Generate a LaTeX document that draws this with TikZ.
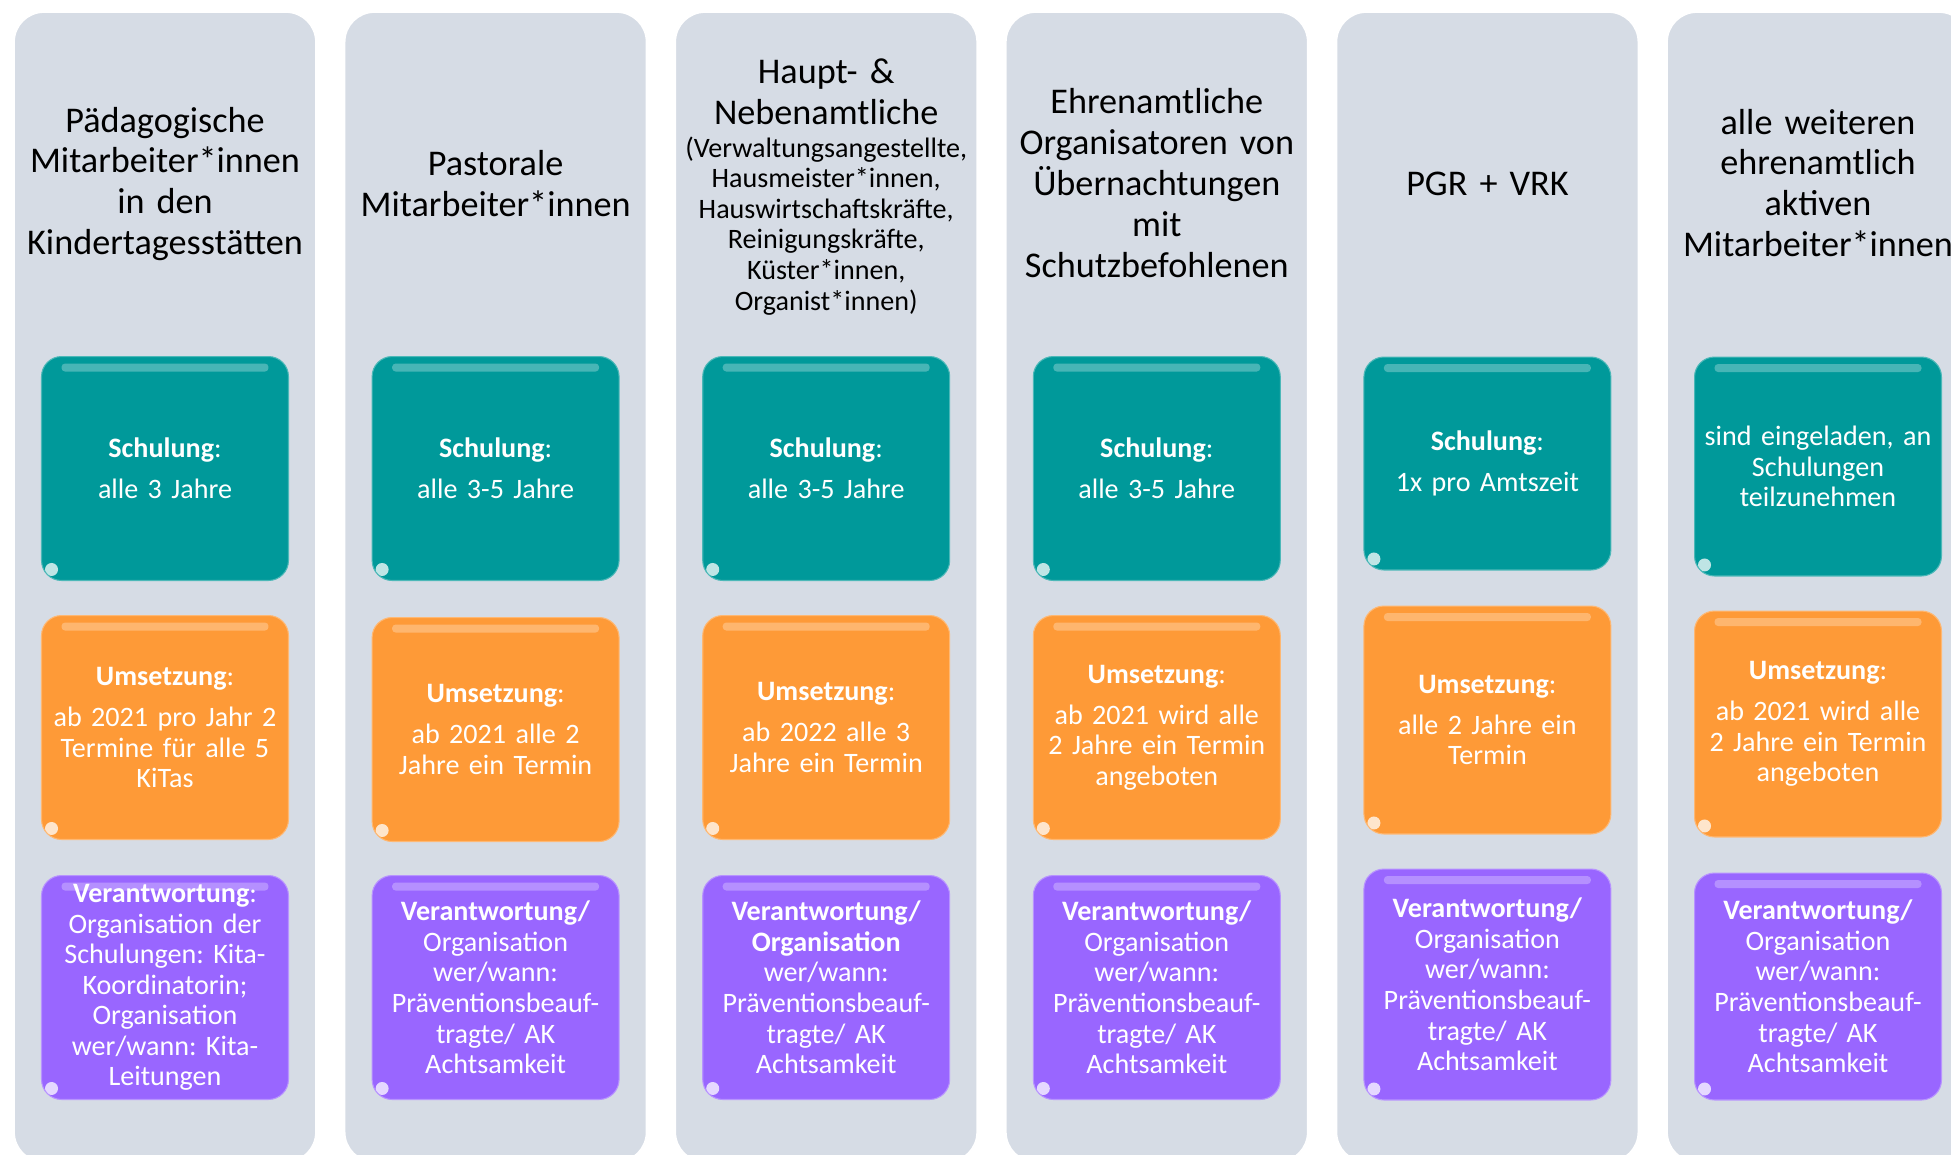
\documentclass[tikz,border=0pt]{standalone}
\usepackage{fontspec}
\setmainfont{Carlito}[WordSpace=0.72]
\frenchspacing
\definecolor{spaltgrau}{HTML}{D6DCE5}
\definecolor{tuerkis}{HTML}{00999A}
\definecolor{orangeb}{HTML}{FE9A37}
\definecolor{lila}{HTML}{9966FF}

\tikzset{
  glanz/.style={path picture={
      \fill[white,opacity=.28,rounded corners=2pt] ([xshift=0.4cm,yshift=-0.14cm]path picture bounding box.north west) rectangle ([xshift=-0.4cm,yshift=-0.3cm]path picture bounding box.north east);
      \fill[white,opacity=.75] ([xshift=0.2cm,yshift=0.22cm]path picture bounding box.south west) circle (0.13cm);
    }},
  karte/.style={rounded corners=0.4cm,minimum width=4.94cm,minimum height=4.48cm,text width=4.8cm,
    inner sep=0pt,align=center,text=white,font=\fontsize{16}{17.4}\selectfont,glanz},
  schulbox/.style={karte,fill=tuerkis,draw=tuerkis!70!white,line width=0.6pt},
  umsbox/.style={karte,fill=orangeb,draw=orangeb!70!white,line width=0.6pt},
  verbox/.style={karte,fill=lila,draw=lila!70!white,line width=0.6pt},
  kopf/.style={text width=6.2cm,align=center,inner sep=0pt,font=\fontsize{20.6}{23.3}\selectfont}
}

\begin{document}
\begin{tikzpicture}[x=0.02cm,y=-0.02cm]
  \useasboundingbox (0,0) rectangle (1951,1154);
  \clip (0,0) rectangle (1951,1154);
  \fill[white] (0,0) rectangle (1951,1154);
  % Spalten
  \foreach \i in {0,...,5}
    \draw[fill=spaltgrau,draw=white,line width=1pt,rounded corners=0.6cm]
      ({165+330.6*\i-151},12) rectangle ({165+330.6*\i+151},1162);

  % Zielgruppen
  \node[kopf] (kopf1) at (165,184) {Pädagogische\\Mitarbeiter*innen\\in den\\Kindertagesstätten};
  \node[kopf] (kopf2) at (495.6,184) {Pastorale\\Mitarbeiter*innen};
  \node[kopf] (kopf3) at (826.2,187) {Haupt- \&\\Nebenamtliche\par\vspace{1pt}
    {\fontsize{16}{17.4}\selectfont(Verwaltungsangestellte,\\Hausmeister*innen,\\Hauswirtschaftskräfte,\\Reinigungskräfte,\\Küster*innen,\\Organist*innen)\par}};
  \node[kopf] (kopf4) at (1156.8,183) {Ehrenamtliche\\Organisatoren von\\Übernachtungen\\mit\\Schutzbefohlenen};
  \node[kopf] (kopf5) at (1487.4,184) {PGR + VRK};
  \node[kopf] (kopf6) at (1818,183) {alle weiteren\\ehrenamtlich\\aktiven\\Mitarbeiter*innen};

  % Schulung
  \node[schulbox] (schul1) at (165,468.5) {\textbf{Schulung}:\\[6pt]alle 3 Jahre};
  \node[schulbox] (schul2) at (495.6,468.5) {\textbf{Schulung}:\\[6pt]alle 3-5 Jahre};
  \node[schulbox] (schul3) at (826.2,468.5) {\textbf{Schulung}:\\[6pt]alle 3-5 Jahre};
  \node[schulbox] (schul4) at (1156.8,468.5) {\textbf{Schulung}:\\[6pt]alle 3-5 Jahre};
  \node[schulbox,minimum height=4.26cm] (schul5) at (1487.4,463.5) {\textbf{Schulung}:\\[6pt]1x pro Amtszeit};
  \node[schulbox,minimum height=4.38cm] (schul6) at (1818,466.5) {sind eingeladen, an\\Schulungen\\teilzunehmen};

  % Umsetzung
  \node[umsbox] (ums1) at (165,727.5) {\textbf{Umsetzung}:\\[6pt]ab 2021 pro Jahr 2\\Termine für alle 5\\KiTas};
  \node[umsbox] (ums2) at (495.6,729.5) {\textbf{Umsetzung}:\\[6pt]ab 2021 alle 2\\Jahre ein Termin};
  \node[umsbox] (ums3) at (826.2,727.5) {\textbf{Umsetzung}:\\[6pt]ab 2022 alle 3\\Jahre ein Termin};
  \node[umsbox] (ums4) at (1156.8,727.5) {\textbf{Umsetzung}:\\[6pt]ab 2021 wird alle\\2 Jahre ein Termin\\angeboten};
  \node[umsbox,minimum height=4.56cm] (ums5) at (1487.4,720) {\textbf{Umsetzung}:\\[6pt]alle 2 Jahre ein\\Termin};
  \node[umsbox,minimum height=4.52cm] (ums6) at (1818,724) {\textbf{Umsetzung}:\\[6pt]ab 2021 wird alle\\2 Jahre ein Termin\\angeboten};

  % Verantwortung
  \node[verbox] (verant1) at (165,987.5) {\textbf{Verantwortung}:\\Organisation der\\Schulungen: Kita-\\Koordinatorin;\\Organisation\\wer/wann: Kita-\\Leitungen};
  \node[verbox] (verant2) at (495.6,987.5) {\textbf{Verantwortung/}\\Organisation\\wer/wann:\\Präventionsbeauf-\\tragte/ AK\\Achtsamkeit};
  \node[verbox] (verant3) at (826.2,987.5) {\textbf{Verantwortung/}\\\textbf{Organisation}\\wer/wann:\\Präventionsbeauf-\\tragte/ AK\\Achtsamkeit};
  \node[verbox] (verant4) at (1156.8,987.5) {\textbf{Verantwortung/}\\Organisation\\wer/wann:\\Präventionsbeauf-\\tragte/ AK\\Achtsamkeit};
  \node[verbox,minimum height=4.62cm] (verant5) at (1487.4,984.5) {\textbf{Verantwortung/}\\Organisation\\wer/wann:\\Präventionsbeauf-\\tragte/ AK\\Achtsamkeit};
  \node[verbox,minimum height=4.54cm] (verant6) at (1818,986.5) {\textbf{Verantwortung/}\\Organisation\\wer/wann:\\Präventionsbeauf-\\tragte/ AK\\Achtsamkeit};
\end{tikzpicture}
\end{document}
